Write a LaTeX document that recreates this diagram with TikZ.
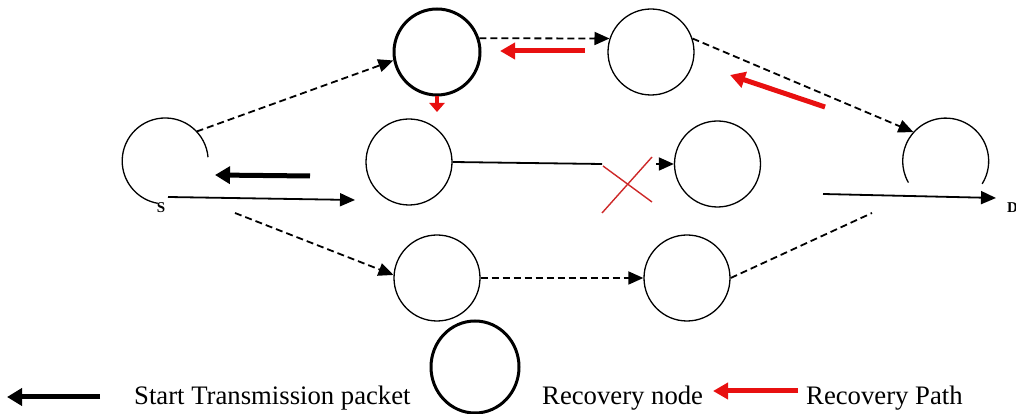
\documentclass[tikz,border=0pt]{standalone}
\usepackage{fontspec}
\setmainfont{Liberation Serif}
\usetikzlibrary{arrows.meta,shapes.geometric}
\definecolor{recred}{RGB}{232,16,16}
\definecolor{xred}{RGB}{205,40,40}
\tikzset{
  netnode/.style={circle,draw=black,line width=1.3pt,minimum size=86pt,inner sep=0pt},
  recnode/.style={netnode,line width=3pt},
  hidnode/.style={circle,minimum size=86pt,inner sep=0pt},
  dashlink/.style={line width=1.8pt,dash pattern=on 7pt off 4pt},
  dasharrow/.style={dashlink,-{Triangle[length=15pt,width=13pt]}},
  solidarrow/.style={line width=1.8pt,-{Triangle[length=15pt,width=13pt]}},
  startarrow/.style={line width=5pt,-{Triangle[length=15pt,width=17pt]}},
  recarrow/.style={recred,line width=5pt,-{Triangle[length=15pt,width=16pt]}},
  smallrec/.style={recred,line width=4pt,-{Triangle[length=9pt,width=15pt]}},
  lbl/.style={font=\bfseries\fontsize{15pt}{16pt}\selectfont,inner sep=0pt},
  legtext/.style={font=\fontsize{26.7pt}{28pt}\selectfont,inner sep=0pt,anchor=base west},
}
\begin{document}
\begin{tikzpicture}[x=1pt,y=1pt]
\useasboundingbox (0,0) rectangle (1016,414);
% nodes
\node[hidnode] (S) at (165,253) {};
\node[hidnode] (D) at (945.5,253) {};
\node[recnode] (T1) at (437,362) {};
\node[netnode] (T2) at (651,362) {};
\node[netnode] (M1) at (409,252) {};
\node[netnode] (M2) at (717.5,250) {};
\node[netnode] (B1) at (437,136) {};
\node[netnode] (B2) at (687,136) {};
% open circles S and D
\draw[line width=1.3pt] (S.5) arc[start angle=5,end angle=260,radius=43pt];
\draw[line width=1.3pt] (D.-32) arc[start angle=-32,end angle=210,radius=43pt];
\node[lbl] (Slbl) at (161,206) {S};
\node[lbl] (Dlbl) at (1012.5,206) {D};
% coordinates
\coordinate (sb0) at (235,201);
\coordinate (sm0) at (168,217);
\coordinate (sm1) at (355,214);
\coordinate (st0) at (310,238);
\coordinate (st1) at (215,239);
\coordinate (r10) at (585,363);
\coordinate (r11) at (500,363);
\coordinate (r1s) at (437,302);
\coordinate (r20) at (825,307);
\coordinate (r21) at (730,339);
\coordinate (cut) at (602,250);
\coordinate (cut2) at (656,250);
\coordinate (xa) at (602,201);
\coordinate (xb) at (652,257);
\coordinate (xc) at (603,248);
\coordinate (xd) at (652,212);
\coordinate (bd1) at (872,201);
\coordinate (dd0) at (823,220);
\coordinate (dd1) at (996,216);
% links
\draw[dasharrow] (S.43) -- (T1.191);
\draw[dasharrow] (sb0) -- (B1.176);
\draw[solidarrow] (sm0) -- (sm1);
\draw[startarrow] (st0) -- (st1);
\draw[dasharrow] (T1.18) -- (T2.162);
\draw[recarrow] (r10) -- (r11);
\draw[smallrec] (T1.south) -- (r1s);
\draw[dasharrow] (T2.18) -- (D.138);
\draw[recarrow] (r20) -- (r21);
\draw[line width=1.8pt] (M1.east) -- (cut);
\draw[xred,line width=1.4pt] (xa) -- (xb) (xc) -- (xd);
\draw[solidarrow] (cut2) -- (M2.west);
\draw[dasharrow] (B1.east) -- (B2.west);
\draw[dashlink] (B2.east) -- (bd1);
\draw[solidarrow] (dd0) -- (dd1);
% legend
\coordinate (la0) at (100,17);
\coordinate (la1) at (7,17);
\draw[startarrow] (la0) -- (la1);
\node[legtext] (lt1) at (134,9) {Start Transmission packet};
\node[ellipse,draw=black,line width=3pt,minimum width=88pt,minimum height=92pt,inner sep=0pt] (lrec) at (475,47) {};
\node[legtext] (lt2) at (542,9) {Recovery node};
\coordinate (lr0) at (798,23);
\coordinate (lr1) at (713,23);
\draw[recarrow] (lr0) -- (lr1);
\node[legtext] (lt3) at (806,9) {Recovery Path};
\end{tikzpicture}
\end{document}
